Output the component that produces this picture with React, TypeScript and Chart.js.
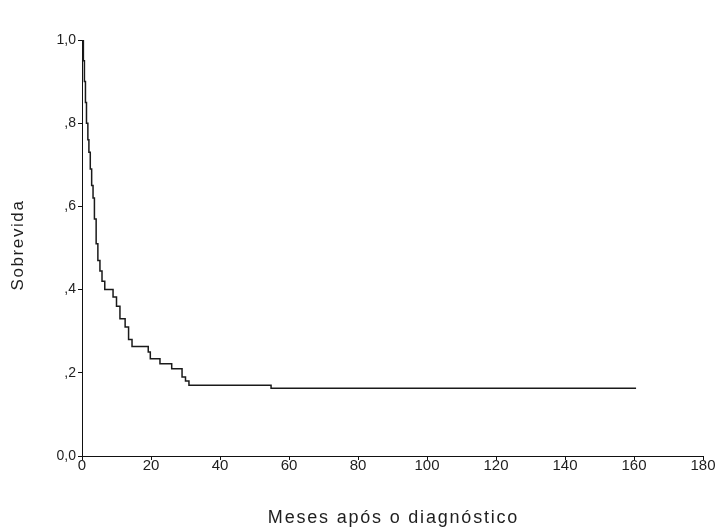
import React, { useEffect, useRef } from "react";
import { Chart, registerables } from "chart.js";

Chart.register(...registerables);

// Kaplan-Meier survival estimates (months after diagnosis, survival after each step)
const months = [0, 0.4, 0.7, 1.0, 1.3, 1.7, 2.0, 2.4, 2.8, 3.2, 3.6, 4.1, 4.6, 5.2, 5.8, 6.6, 9.0, 10.0, 11.0, 12.5, 13.5, 14.5, 19.2, 19.8, 22.6, 26.0, 29.0, 30.0, 31.0, 54.8, 160.6];
const survival = [1.0, 0.95, 0.9, 0.85, 0.8, 0.76, 0.73, 0.69, 0.65, 0.62, 0.57, 0.51, 0.47, 0.445, 0.42, 0.4, 0.382, 0.36, 0.33, 0.31, 0.28, 0.263, 0.25, 0.234, 0.222, 0.21, 0.19, 0.18, 0.17, 0.163, 0.163];

const xTicks = [0, 20, 40, 60, 80, 100, 120, 140, 160, 180];
const yTicks = [0, 0.2, 0.4, 0.6, 0.8, 1.0];
const yTickLabels = ["0,0", ",2", ",4", ",6", ",8", "1,0"];

const xTitle = "Meses após o diagnóstico";
const yTitle = "Sobrevida";

const FONT = "'Liberation Sans', Arial, sans-serif";

const titlePlugin = {
  id: "spacedTitles",
  afterDraw(chart: any) {
    const { ctx, chartArea } = chart;
    ctx.save();
    ctx.fillStyle = "#1e1e1e";
    ctx.textAlign = "center";
    ctx.textBaseline = "middle";
    ctx.font = `18px ${FONT}`;
    try {
      (ctx as any).letterSpacing = "1.8px";
    } catch (e) {}
    ctx.fillText(xTitle, (chartArea.left + chartArea.right) / 2 + 1, 518);
    ctx.translate(18, (chartArea.top + chartArea.bottom) / 2 - 3);
    ctx.rotate(-Math.PI / 2);
    try {
      (ctx as any).letterSpacing = "1.6px";
    } catch (e) {}
    ctx.font = `17px ${FONT}`;
    ctx.fillText(yTitle, 0, 0);
    ctx.restore();
  },
};

export default function App() {
  const ref = useRef<HTMLCanvasElement | null>(null);

  useEffect(() => {
    if (!ref.current) return;
    const chart = new Chart(ref.current, {
      type: "line",
      data: {
        datasets: [
          {
            data: months.map((m, i) => ({ x: m, y: survival[i] })),
            stepped: true,
            borderColor: "#1a1a1a",
            borderWidth: 1.5,
            pointRadius: 0,
            fill: false,
          },
        ],
      },
      plugins: [titlePlugin],
      options: {
        animation: false,
        responsive: false,
        maintainAspectRatio: false,
        layout: { padding: { top: 40, right: 17, left: 0, bottom: 0 } },
        plugins: { legend: { display: false }, tooltip: { enabled: false } },
        scales: {
          x: {
            type: "linear",
            min: 0,
            max: 180,
            afterBuildTicks: (axis: any) => {
              axis.ticks = xTicks.map((v) => ({ value: v }));
            },
            afterFit: (axis: any) => {
              axis.height = 73;
            },
            grid: {
              drawOnChartArea: false,
              drawTicks: true,
              tickLength: 4,
              color: "#111",
            },
            border: { display: true, color: "#111", width: 1 },
            ticks: {
              color: "#1e1e1e",
              font: { family: FONT, size: 15 },
              padding: -3,
              maxRotation: 0,
              callback: (v: any) => String(v),
            },
          },
          y: {
            type: "linear",
            min: 0,
            max: 1,
            afterBuildTicks: (axis: any) => {
              axis.ticks = yTicks.map((v) => ({ value: v }));
            },
            afterFit: (axis: any) => {
              axis.width = 82;
            },
            grid: {
              drawOnChartArea: false,
              drawTicks: true,
              tickLength: 4,
              color: "#111",
            },
            border: { display: true, color: "#111", width: 1 },
            ticks: {
              color: "#1e1e1e",
              font: { family: FONT, size: 14 },
              padding: 2,
              callback: (v: any) => {
                const idx = yTicks.findIndex((t) => Math.abs(t - Number(v)) < 1e-6);
                return idx >= 0 ? yTickLabels[idx] : "";
              },
            },
          },
        },
      },
    } as any);
    return () => chart.destroy();
  }, []);

  return (
    <div style={{ position: "fixed", left: 0, top: 0, width: 720, height: 529, background: "#fff" }}>
      <canvas ref={ref} width={720} height={529} />
    </div>
  );
}
